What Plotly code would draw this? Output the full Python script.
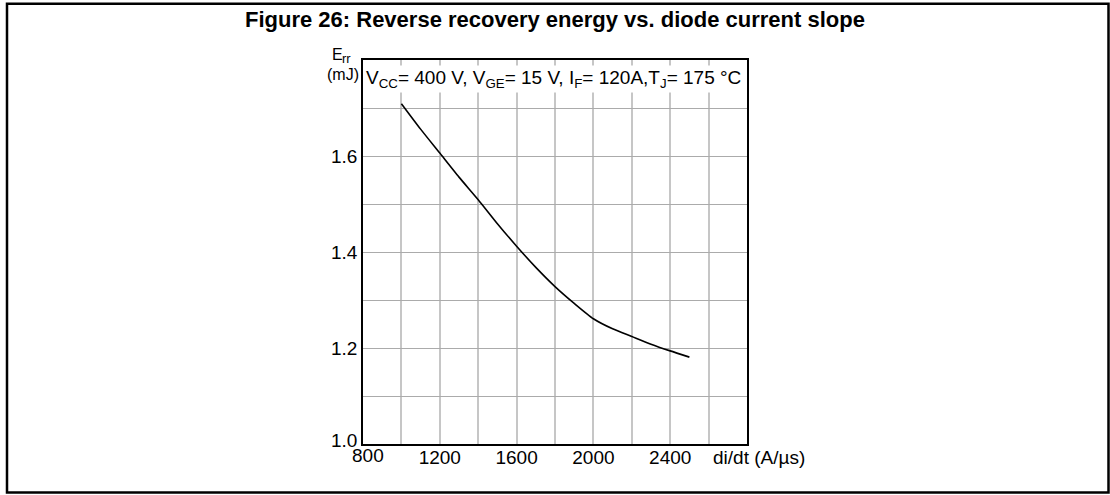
import plotly.graph_objects as go

# ---- data ----
di_dt = [1000, 1100, 1200, 1300, 1400, 1500, 1600, 1700, 1800, 1900, 2000, 2100, 2200, 2300, 2400, 2500]
e_rr = [1.709, 1.656, 1.606, 1.556, 1.509, 1.459, 1.412, 1.368, 1.328, 1.293, 1.261, 1.240, 1.224, 1.208, 1.194, 1.181]

x_tick_vals = [800, 1000, 1200, 1400, 1600, 1800, 2000, 2200, 2400, 2600, 2800]
x_tick_text = ["", "", "1200", "", "1600", "", "2000", "", "2400", "", ""]
y_tick_vals = [1.0, 1.1, 1.2, 1.3, 1.4, 1.5, 1.6, 1.7, 1.8]
y_tick_text = ["", "", "1.2", "", "1.4", "", "1.6", "", ""]

title_text = "<b>Figure 26: Reverse recovery energy vs. diode current slope</b>"
cond_text = "V<sub>CC</sub>= 400 V, V<sub>GE</sub>= 15 V, I<sub>F</sub>= 120A,T<sub>J</sub>= 175 °C"
y_unit_e = "E"
y_unit_rr = "rr"
y_unit_bot = "(mJ)"
x_unit = "di/dt (A/µs)"

FONT = "Liberation Sans, Arial, sans-serif"
W, H = 1110, 495
L, R, T, B = 363, 747, 60, 444
PW, PH = R - L, B - T


def px(xp):
    return (xp - L) / PW


def py(yp):
    return (B - yp) / PH


fig = go.Figure()
fig.add_trace(go.Scatter(x=di_dt, y=e_rr, mode="lines",
                         line=dict(color="black", width=1.6, shape="spline", smoothing=0.6),
                         showlegend=False, hoverinfo="skip"))

fig.update_layout(
    width=W, height=H,
    margin=dict(l=L, r=W - R, t=T, b=H - B, pad=0),
    paper_bgcolor="white", plot_bgcolor="white",
    font=dict(family=FONT, size=19, color="black"),
    xaxis=dict(range=[800, 2800], tickvals=x_tick_vals, ticktext=x_tick_text,
               showgrid=True, gridcolor="#c6c6c6", gridwidth=1.5,
               showline=True, linecolor="black", linewidth=1.5, mirror=True,
               ticks="", zeroline=False, fixedrange=True, tickfont=dict(size=19),
               ticklabelstandoff=-5),
    yaxis=dict(range=[1.0, 1.8], tickvals=y_tick_vals, ticktext=y_tick_text,
               showgrid=True, gridcolor="#ababab", gridwidth=1,
               showline=True, linecolor="black", linewidth=1.5, mirror=True,
               ticks="", zeroline=False, fixedrange=True, tickfont=dict(size=19),
               ticklabelstandoff=0),
)

ann = []
ann.append(dict(text=title_text, x=px(555), y=py(19), xref="paper", yref="paper",
                xanchor="center", yanchor="middle", showarrow=False, font=dict(size=22)))
ann.append(dict(text=cond_text, x=px(364), y=py(79), xref="paper", yref="paper",
                xanchor="left", yanchor="middle", showarrow=False, font=dict(size=19),
                bgcolor="white", borderpad=1))
ann.append(dict(text=y_unit_e, x=px(344), y=py(54), xref="paper", yref="paper",
                xanchor="right", yanchor="middle", showarrow=False, font=dict(size=16),
                borderpad=0))
ann.append(dict(text=y_unit_rr, x=px(340.5), y=py(58), xref="paper", yref="paper",
                xanchor="left", yanchor="middle", showarrow=False, font=dict(size=13),
                borderpad=0))
ann.append(dict(text=y_unit_bot, x=px(361), y=py(74), xref="paper", yref="paper",
                xanchor="right", yanchor="middle", showarrow=False, font=dict(size=16)))
ann.append(dict(text=x_unit, x=px(711), y=py(457), xref="paper", yref="paper",
                xanchor="left", yanchor="middle", showarrow=False, font=dict(size=19)))
# offset labels at origin
ann.append(dict(text="1.0", x=px(359), y=py(440), xref="paper", yref="paper",
                xanchor="right", yanchor="middle", showarrow=False, font=dict(size=19)))
ann.append(dict(text="800", x=px(368), y=py(455), xref="paper", yref="paper",
                xanchor="center", yanchor="middle", showarrow=False, font=dict(size=19)))
fig.update_layout(annotations=ann)

# outer frame
fig.add_shape(type="rect", xref="paper", yref="paper",
              x0=px(7), x1=px(1108.5), y0=py(492.5), y1=py(3.8),
              line=dict(color="black", width=2.5), fillcolor="rgba(0,0,0,0)", layer="above")

fig.write_html("out.html", config={"displayModeBar": False},
               post_script="document.body.style.margin='0';document.body.style.overflow='hidden';")
